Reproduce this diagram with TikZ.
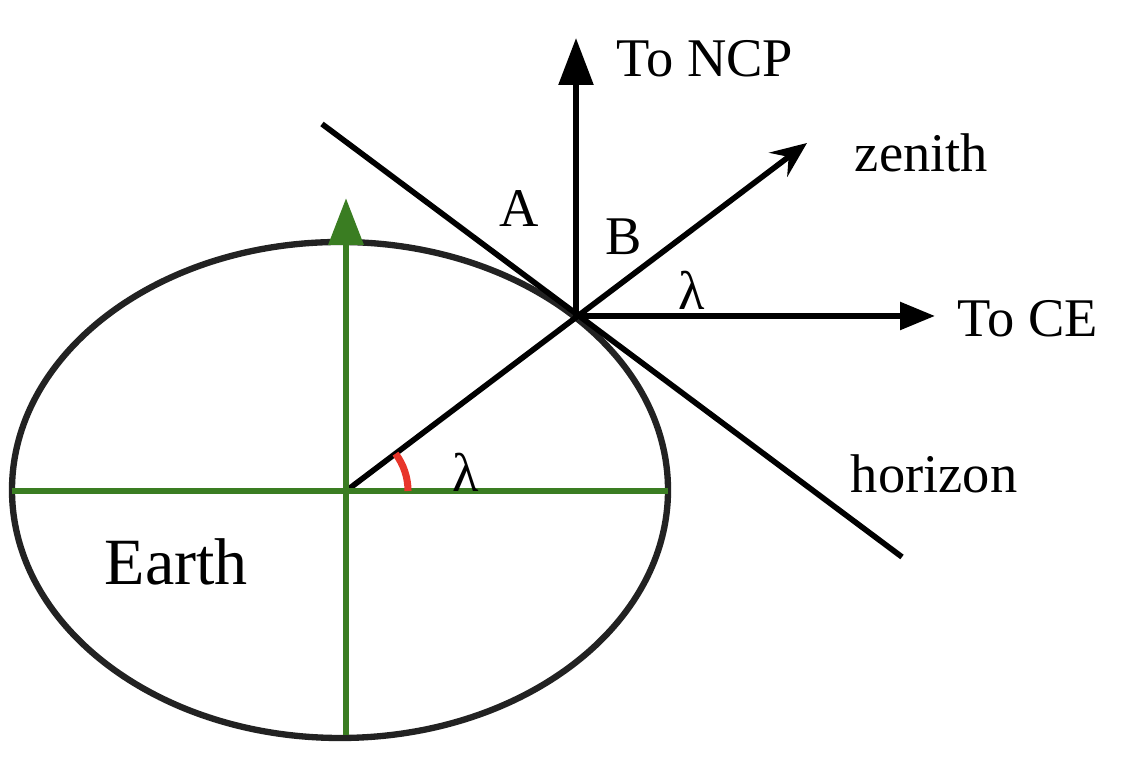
\documentclass[tikz,border=0pt]{standalone}
\usepackage{fontspec}
\setmainfont{LiberationSerif}[Extension=.ttf, UprightFont=*-Regular]
\usetikzlibrary{arrows.meta}
\definecolor{earthgreen}{RGB}{58,125,34}
\definecolor{rimgray}{RGB}{34,34,34}
\definecolor{anglered}{RGB}{232,53,42}

\begin{document}
\begin{tikzpicture}[line width=1.6pt,
    lbl/.style={inner sep=0pt, anchor=base west, font=\fontsize{15.5}{18}\selectfont},
    axis/.style={earthgreen, line width=1.9pt}]
    \useasboundingbox (0,0) rectangle (11.26,7.66);
    \coordinate (centre) at (3.46,2.75);
    \coordinate (site)   at (5.76,4.50);
    \coordinate (westpt)  at (0.12,2.75);
    \coordinate (eastpt)  at (6.68,2.75);
    \coordinate (southpt) at (3.46,0.31);
    \coordinate (northpt) at (3.46,5.68);
    \coordinate (ncptip)  at (5.76,7.28);
    \coordinate (cetip)   at (9.35,4.50);
    \coordinate (zentip)  at (8.07,6.23);
    \coordinate (hzstart) at (3.22,6.42);
    \coordinate (hzend)   at (9.02,2.09);
    % the earth
    \draw[rimgray, line width=1.8pt] (3.40,2.76) ellipse [x radius=3.28, y radius=2.48];
    % local directions
    \draw (hzstart) -- (hzend);
    \draw[-{Stealth[length=3.6mm,width=3mm,inset=1.3mm]}] (centre) -- (zentip);
    \draw[-{Triangle[length=4.7mm,width=3.4mm]}] (site) -- (ncptip);
    \draw[-{Triangle[length=3.5mm,width=2.7mm]}] (site) -- (cetip);
    % axes
    \draw[axis] (westpt) -- (eastpt);
    \draw[axis, -{Triangle[length=4.7mm,width=3.4mm]}] (southpt) -- (northpt);
    \draw[anglered, line width=2pt] ([shift={(0.62,0)}]centre) arc (0:37:0.62);
    % labels
    \node[lbl] (ncp)     at (6.14,6.89) {To NCP};
    \node[lbl] (zenith)  at (8.52,5.94) {zenith};
    \node[lbl] (ce)      at (9.55,4.29) {To CE};
    \node[lbl] (horizon) at (8.48,2.73) {horizon};
    \node[lbl] (angA)    at (4.97,5.39) {A};
    \node[lbl] (angB)    at (6.03,5.11) {B};
    \node[lbl] (latup)   at (6.76,4.56) {λ};
    \node[lbl] (latlow)  at (4.50,2.74) {λ};
    \node[lbl, font=\fontsize{18.8}{22}\selectfont] (earth) at (1.02,1.81) {Earth};
\end{tikzpicture}
\end{document}
